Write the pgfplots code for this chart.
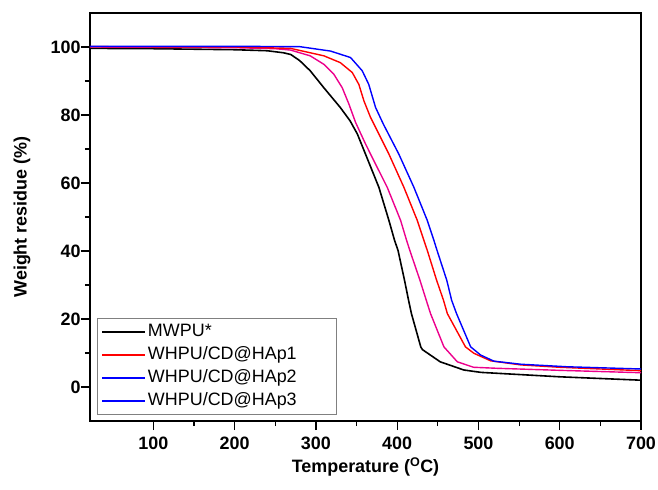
\documentclass[border=0pt]{standalone}
\usepackage{pgfplots}
\pgfplotsset{compat=1.18}
\usepackage{fontspec}
\setmainfont{Liberation Sans}

\begin{document}
\begin{tikzpicture}
\begin{axis}[
    scale only axis,
    width=551bp, height=408bp,
    xmin=22, xmax=700, ymin=-10, ymax=110,
    xtick={100,200,...,700},
    ytick={0,20,...,100},
    minor x tick num=1, minor y tick num=1,
    tick align=outside,
    xtick pos=left, ytick pos=left,
    major tick length=9bp, minor tick length=5bp,
    axis line style={line width=1.6bp},
    every tick/.style={black, line width=1.2bp},
    tick label style={font=\fontsize{18}{20}\selectfont\bfseries, /pgf/number format/assume math mode=true},
    yticklabel style={xshift=3bp},
    xticklabel style={yshift=-3bp},
    label style={font=\fontsize{18}{20}\selectfont\bfseries},
    xlabel={Temperature (\textsuperscript{O}C)},
    ylabel={Weight residue (\%)},
    xlabel style={at={(axis description cs:0.5,-0.112)}, anchor=center},
    ylabel style={at={(axis description cs:-0.1234,0.5)}, anchor=center},
    legend style={draw=gray, line width=0.8bp, at={(0.0127,0.0147)}, anchor=south west,
        font=\fontsize{18}{20}\selectfont, inner xsep=4bp, inner ysep=2bp, row sep=0bp,
        nodes={text height=13bp, text depth=4bp, inner ysep=3bp}},
    legend cell align=left,
    legend image code/.code={\draw[line width=1.6bp, #1] (0bp,0bp) -- (43bp,0bp);},
    every axis plot/.append style={line width=1.4bp},
]
% MWPU*
\addplot[black, line width=1.6bp, forget plot] coordinates {
(22,99.6) (100,99.5) (200,99.2) (240,98.9) (260,98.3) (269,97.8) (280,96.0)
(293,93.0) (309.8,88.0) (330,82.2) (342,78.3) (351,74.4) (361,68.5) (377.5,58.7)
(389.8,49.0) (396.8,43.1) (401,40.2) (409,31.4) (414,25.5) (417.5,21.6)
(429,11.8) (431,11.0) (453,7.4) (482,5.0) (503,4.3) (600,3.0) (700,2.0)};
% magenta curve
\addplot[magenta, forget plot] coordinates {
(22,100.0) (200,99.8) (250,99.5) (268.7,99.1) (293,97.4) (309.8,94.9) (322,92.0)
(332.4,88.0) (340.6,83.2) (348.8,77.8) (361,71.5) (369.3,67.5) (387.8,58.7)
(404.2,49.0) (411.6,43.1) (415.5,40.2) (428,31.4) (435.8,25.5) (441,21.6)
(457.5,11.8) (474,7.4) (494,5.8) (523,5.5) (600,4.9) (700,4.2)};
% red curve
\addplot[red, forget plot] coordinates {
(22,100.1) (200,100.0) (268.7,99.6) (309.8,97.4) (330,95.4) (344.7,92.5)
(352.8,89.0) (359,84.2) (367.2,79.3) (379.6,73.4) (389.8,68.5) (408.3,58.7)
(424.7,49.0) (432.9,43.1) (437,40.2) (448.5,31.4) (457,25.5) (461.7,21.6)
(484,11.8) (494.5,9.9) (515,7.7) (552,6.5) (600,5.8) (700,4.8)};
% blue curve
\addplot[blue, forget plot] coordinates {
(22,100.2) (200,100.2) (280,100.1) (318,98.8) (342.6,96.9) (357,93.0) (365,89.0)
(373.4,82.2) (383,77.3) (402,68.5) (420.6,58.7) (437,49.0) (445.2,43.1)
(449,40.2) (461,31.4) (467,25.5) (473,21.6) (490.4,11.8) (502.7,9.4) (519,7.6)
(552,6.7) (609.5,5.95) (700,5.3)};
\addlegendimage{black, line width=1.9bp}
\addlegendentry{MWPU*}
\addlegendimage{red}
\addlegendentry{\makebox[182bp][l]{WHPU/CD@HAp1}}
\addlegendimage{blue}
\addlegendentry{WHPU/CD@HAp2}
\addlegendimage{blue}
\addlegendentry{WHPU/CD@HAp3}
\end{axis}
\pgfresetboundingbox
\path ([shift={(-90bp,-69bp)}]current axis.south west) rectangle ([shift={(17bp,13bp)}]current axis.north east);
\end{tikzpicture}
\end{document}
